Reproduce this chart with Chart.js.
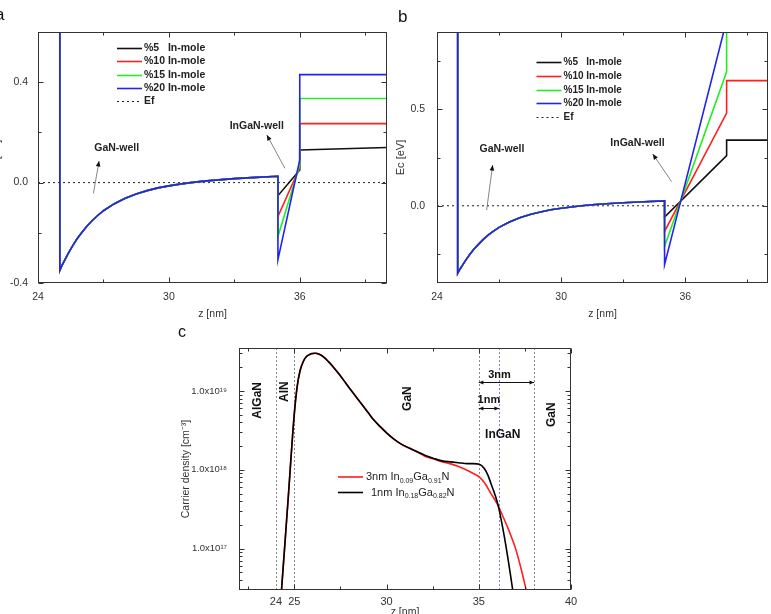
<!DOCTYPE html>
<html>
<head>
<meta charset="utf-8">
<script src="https://cdn.jsdelivr.net/npm/chart.js@4"></script>
<style>
html, body { margin: 0; padding: 0; background: #fff; }
body { width: 771px; height: 614px; overflow: hidden; position: relative; }
canvas { position: absolute; }
#ca { left: -14px; top: 0; }
#cb { left: 385px; top: 0; }
#cc { left: 175px; top: 310px; }
</style>
</head>
<body>
<canvas id="ca" width="404" height="322"></canvas>
<canvas id="cb" width="386" height="322"></canvas>
<canvas id="cc" width="410" height="320"></canvas>
<script>
const FONT = "'Liberation Sans', Arial, Helvetica, sans-serif";
Chart.defaults.font.family = FONT;
Chart.defaults.color = '#333';

// ---- panels a / b : conduction band edge Ec(z) ----
const seriesNames = ['%5', '%10', '%15', '%20'];
const seriesColors = ['#111111', '#ff1f1f', '#22ee22', '#2323ee'];

// GaN-well part, common to all In fractions (first point is the AlN barrier, off the top)
const zWell = [25, 25, 25.1, 25.25, 25.4, 25.6, 25.8, 26, 26.25, 26.5, 26.75, 27, 27.5, 28, 28.5, 29, 29.5, 30, 30.5, 31, 31.5, 32, 33, 34, 35];
const ecWell = [1.0, -0.35, -0.33, -0.305, -0.28, -0.25, -0.223, -0.2, -0.173, -0.15, -0.13, -0.112, -0.084, -0.062, -0.045, -0.032, -0.021, -0.013, -0.006, 0, 0.005, 0.009, 0.016, 0.021, 0.025];

// panel a: 1 nm InGaN (35-36 nm)
const zTailA = [35, 36, 36, 40];
const ecA5 = [-0.052, 0.05, 0.13, 0.14];
const ecA10 = [-0.135, 0.06, 0.235, 0.235];
const ecA15 = [-0.215, 0.07, 0.335, 0.335];
const ecA20 = [-0.307, 0.09, 0.43, 0.43];

// panel b: 3 nm InGaN (35-38 nm)
const zTailB = [35, 38, 38, 40];
const ecB5 = [-0.058, 0.26, 0.34, 0.34];
const ecB10 = [-0.133, 0.48, 0.648, 0.648];
const ecB15 = [-0.21, 0.694, 1.2, 1.2];
const ecB20 = [-0.305, 0.96, 1.3, 1.3];

const xTicksAB = [24, 30, 36];
const xMinorAB = [27, 33, 39];
const yTicksA = [-0.4, 0, 0.4];
const yMinorA = [-0.2, 0.2];
const yTicksB = [0, 0.5];
const yMinorB = [-0.25, 0.25, 0.75];

// ---- panel c : carrier density ----
const zBlackC = [24.25, 24.5, 24.7, 24.85, 25.0, 25.15, 25.31, 25.5, 25.67, 25.9, 26.13, 26.35, 26.58, 26.85, 27.12, 27.4, 27.67, 27.94, 28.21, 28.49, 28.76, 29.03, 29.3, 29.67, 30.03, 30.4, 30.75, 31.2, 31.67, 32.1, 32.57, 33.0, 33.48, 33.9, 34.39, 34.7, 35.03, 35.3, 35.5, 35.66, 36.03, 36.39, 36.84, 37.0];
const nBlackC = [2.0e16, 1.26e17, 5.6e17, 1.8e18, 5.2e18, 1.12e19, 1.8e19, 2.4e19, 2.75e19, 2.95e19, 3.0e19, 2.92e19, 2.7e19, 2.35e19, 2.0e19, 1.66e19, 1.37e19, 1.12e19, 9.3e18, 7.6e18, 6.3e18, 5.2e18, 4.3e18, 3.5e18, 2.9e18, 2.45e18, 2.15e18, 1.9e18, 1.7e18, 1.52e18, 1.39e18, 1.3e18, 1.26e18, 1.23e18, 1.2e18, 1.2e18, 1.18e18, 1.04e18, 8.5e17, 6.7e17, 3.7e17, 1.4e17, 3.0e16, 1.6e16];
const zRedC = [24.25, 24.5, 24.7, 24.85, 25.0, 25.15, 25.31, 25.5, 25.67, 25.9, 26.13, 26.35, 26.58, 26.85, 27.12, 27.4, 27.67, 27.94, 28.21, 28.49, 28.76, 29.03, 29.3, 29.67, 30.03, 30.4, 30.75, 31.2, 31.67, 32.1, 32.57, 33.0, 33.48, 33.9, 34.39, 34.7, 35.03, 35.3, 35.66, 36.03, 36.3, 36.57, 36.8, 37.02, 37.3, 37.57, 37.8];
const nRedC = [2.0e16, 1.26e17, 5.6e17, 1.8e18, 5.2e18, 1.12e19, 1.8e19, 2.4e19, 2.75e19, 2.95e19, 3.0e19, 2.92e19, 2.7e19, 2.35e19, 2.0e19, 1.66e19, 1.37e19, 1.12e19, 9.3e18, 7.6e18, 6.3e18, 5.2e18, 4.3e18, 3.5e18, 2.9e18, 2.45e18, 2.15e18, 1.9e18, 1.68e18, 1.48e18, 1.37e18, 1.27e18, 1.19e18, 1.1e18, 9.8e17, 9.0e17, 8.1e17, 6.9e17, 5.0e17, 3.6e17, 2.6e17, 1.85e17, 1.35e17, 9.6e16, 5.5e16, 3.0e16, 1.8e16];
const layerEdges = [24, 25, 35, 38];
const wellCentre = 36.1;
const xTicksC = [24, 25, 30, 35, 40];
const xMinorC = [22.5, 27.5, 32.5, 37.5];
const yTicksC = [1e17, 1e18, 1e19];
const yMinorC = [4e16, 5e16, 6e16, 7e16, 8e16, 9e16, 2e17, 3e17, 4e17, 5e17, 6e17, 7e17, 8e17, 9e17, 2e18, 3e18, 4e18, 5e18, 6e18, 7e18, 8e18, 9e18, 2e19, 3e19];

const pts = (xs, ys) => xs.map((x, i) => ({x: x, y: ys[i]}));
const SUP = {'17': '¹⁷', '18': '¹⁸', '19': '¹⁹'};

function line(ctx, x1, y1, x2, y2) {
    ctx.beginPath();
    ctx.moveTo(x1, y1);
    ctx.lineTo(x2, y2);
    ctx.stroke();
}

function arrowHead(ctx, x1, y1, x2, y2, size) {
    const ang = Math.atan2(y2 - y1, x2 - x1);
    ctx.beginPath();
    ctx.moveTo(x2, y2);
    ctx.lineTo(x2 - size * Math.cos(ang - 0.4), y2 - size * Math.sin(ang - 0.4));
    ctx.lineTo(x2 - size * Math.cos(ang + 0.4), y2 - size * Math.sin(ang + 0.4));
    ctx.closePath();
    ctx.fill();
}

// box around the plot with inward tick marks on all four sides
const framePlugin = {
    id: 'frame',
    afterDatasetsDraw(chart, args, o) {
        const {ctx, chartArea: a} = chart;
        const sx = chart.scales.x, sy = chart.scales.y;
        const L = Math.round(a.left) + 0.5, R = Math.round(a.right) - 0.5;
        const T = Math.round(a.top) + 0.5, B = Math.round(a.bottom) - 0.5;
        ctx.save();
        ctx.strokeStyle = '#333';
        ctx.lineWidth = 1;
        ctx.setLineDash([]);
        ctx.strokeRect(L, T, R - L, B - T);
        const xt = (v, len) => {
            const p = Math.round(sx.getPixelForValue(v)) + 0.5;
            line(ctx, p, B, p, B - len);
            line(ctx, p, T, p, T + len);
        };
        const yt = (v, len) => {
            const p = Math.round(sy.getPixelForValue(v)) + 0.5;
            line(ctx, L, p, L + len, p);
            line(ctx, R, p, R - len, p);
        };
        o.xMajor.forEach(v => xt(v, 5));
        o.xMinor.forEach(v => xt(v, 3));
        o.yMajor.forEach(v => yt(v, 5));
        o.yMinor.forEach(v => yt(v, 3));
        ctx.restore();
    }
};

// legend, well labels, arrows and panel letter for a / b
const bandNotes = {
    id: 'bandNotes',
    afterDraw(chart, args, o) {
        const {ctx, chartArea: a} = chart;
        const sx = chart.scales.x, sy = chart.scales.y;
        ctx.save();
        ctx.font = 'bold ' + o.legFont + 'px ' + FONT;
        ctx.textBaseline = 'middle';
        ctx.textAlign = 'left';
        const inW = ctx.measureText('%10 ').width;
        const x0 = a.left + o.legX, x1 = x0 + o.legLen;
        seriesNames.concat(['Ef']).forEach((name, i) => {
            const yy = Math.round(a.top + o.legY + i * o.legGap) + 0.5;
            if (i < 4) {
                ctx.strokeStyle = seriesColors[i];
                ctx.lineWidth = 1.6;
                ctx.setLineDash([]);
            } else {
                ctx.strokeStyle = '#222';
                ctx.lineWidth = 1;
                ctx.setLineDash([2, 3]);
            }
            line(ctx, x0, yy, x1, yy);
            ctx.fillStyle = '#222';
            ctx.fillText(name, x1 + 2, yy);
            if (i < 4) ctx.fillText('In-mole', x1 + 2 + inW, yy);
        });
        ctx.setLineDash([]);

        ctx.font = 'bold 10.5px ' + FONT;
        ctx.textAlign = 'center';
        o.labels.forEach(l => {
            ctx.fillText(l.text, sx.getPixelForValue(l.x), sy.getPixelForValue(l.y));
        });
        ctx.strokeStyle = '#666';
        ctx.fillStyle = '#111';
        ctx.lineWidth = 0.8;
        o.arrows.forEach(r => {
            const px1 = sx.getPixelForValue(r.x1), py1 = sy.getPixelForValue(r.y1);
            const px2 = sx.getPixelForValue(r.x2), py2 = sy.getPixelForValue(r.y2);
            line(ctx, px1, py1, px2, py2);
            arrowHead(ctx, px1, py1, px2, py2, 6);
        });

        ctx.font = '17px ' + FONT;
        ctx.textAlign = 'left';
        ctx.textBaseline = 'alphabetic';
        ctx.fillStyle = '#111';
        ctx.fillText(o.letter.text, o.letter.x, o.letter.y);
        ctx.restore();
    }
};

function bandChart(id, zTail, tails, yMin, yMax, yTicks, yMinor, notes, yTitlePad, yTickPad) {
    const datasets = [];
    // highest In fraction drawn on top
    for (let i = 3; i >= 0; i--) {
        datasets.push({
            label: seriesNames[i] + ' In-mole',
            data: pts(zWell.concat(zTail), ecWell.concat(tails[i])),
            borderColor: seriesColors[i],
            borderWidth: 1.6,
            pointRadius: 0,
            tension: 0
        });
    }
    datasets.push({
        label: 'Ef',
        data: [{x: 24, y: 0}, {x: 40, y: 0}],
        borderColor: '#222',
        borderWidth: 1,
        borderDash: [2, 3],
        pointRadius: 0
    });

    return new Chart(document.getElementById(id), {
        type: 'line',
        data: {datasets: datasets},
        options: {
            responsive: false,
            animation: false,
            devicePixelRatio: 1,
            events: [],
            layout: {padding: {top: 32, right: 3, left: 0, bottom: 0}},
            scales: {
                x: {
                    type: 'linear',
                    min: 24,
                    max: 40,
                    afterBuildTicks: s => { s.ticks = xTicksAB.map(v => ({value: v})); },
                    afterFit: s => { s.height = 39; },
                    grid: {display: false, drawTicks: false},
                    border: {display: false},
                    ticks: {autoSkip: false, maxRotation: 0, padding: 8, font: {size: 10.5}, callback: v => String(v)},
                    title: {display: true, text: 'z [nm]', font: {size: 10.5}, padding: {top: 0, bottom: 2}}
                },
                y: {
                    type: 'linear',
                    min: yMin,
                    max: yMax,
                    afterBuildTicks: s => { s.ticks = yTicks.map(v => ({value: v})); },
                    afterFit: s => { s.width = 52; },
                    grid: {display: false, drawTicks: false},
                    border: {display: false},
                    ticks: {padding: yTickPad, font: {size: 10.5}, callback: v => v.toFixed(1)},
                    title: {display: true, text: 'Ec [eV]', font: {size: 11}, padding: {top: yTitlePad, bottom: 0}}
                }
            },
            plugins: {
                legend: {display: false},
                tooltip: {enabled: false},
                frame: {xMajor: xTicksAB, xMinor: xMinorAB, yMajor: yTicks, yMinor: yMinor},
                bandNotes: notes
            }
        },
        plugins: [framePlugin, bandNotes]
    });
}

bandChart('ca', zTailA, [ecA5, ecA10, ecA15, ecA20], -0.4, 0.6, yTicksA, yMinorA, {
    legFont: 10.5, legX: 79, legY: 16, legGap: 13.3, legLen: 25,
    labels: [{text: 'GaN-well', x: 27.61, y: 0.137}, {text: 'InGaN-well', x: 34.03, y: 0.227}],
    arrows: [{x1: 26.54, y1: -0.043, x2: 26.8, y2: 0.086}, {x1: 35.32, y1: 0.057, x2: 34.49, y2: 0.19}],
    letter: {text: 'a', x: 9, y: 20}
}, 4, 10);

bandChart('cb', zTailB, [ecB5, ecB10, ecB15, ecB20], -0.4, 0.9, yTicksB, yMinorB, {
    legFont: 10, legX: 99.5, legY: 29.7, legGap: 13.9, legLen: 25,
    labels: [{text: 'GaN-well', x: 27.14, y: 0.292}, {text: 'InGaN-well', x: 33.69, y: 0.327}],
    arrows: [{x1: 26.4, y1: -0.022, x2: 26.69, y2: 0.211}, {x1: 35.34, y1: 0.125, x2: 34.43, y2: 0.268}],
    letter: {text: 'b', x: 13, y: 22}
}, 9, 12);

// ---- panel c decorations ----
function richText(ctx, parts, x, y, size) {
    let cx = x;
    parts.forEach(p => {
        if (p.sub) {
            ctx.font = Math.round(size * 0.64) + 'px ' + FONT;
            ctx.fillText(p.t, cx, y + size * 0.35);
        } else {
            ctx.font = size + 'px ' + FONT;
            ctx.fillText(p.t, cx, y);
        }
        cx += ctx.measureText(p.t).width;
    });
}

const carrierNotes = {
    id: 'carrierNotes',
    beforeDatasetsDraw(chart) {
        const {ctx, chartArea: a} = chart;
        const sx = chart.scales.x;
        ctx.save();
        ctx.lineWidth = 1;
        ctx.setLineDash([2, 2]);
        ctx.strokeStyle = '#888';
        layerEdges.forEach(v => {
            const p = Math.round(sx.getPixelForValue(v)) + 0.5;
            line(ctx, p, a.top, p, a.bottom);
        });
        ctx.strokeStyle = '#7b7bff';
        const p = Math.round(sx.getPixelForValue(wellCentre)) + 0.5;
        line(ctx, p, a.top, p, a.bottom);
        ctx.restore();
    },
    afterDraw(chart) {
        const {ctx, chartArea: a} = chart;
        const sx = chart.scales.x, sy = chart.scales.y;
        ctx.save();
        ctx.fillStyle = '#111';
        ctx.textBaseline = 'middle';
        ctx.textAlign = 'center';
        ctx.font = 'bold 12px ' + FONT;
        [{t: 'AlGaN', x: 23.04, y: 7.6e18}, {t: 'AlN', x: 24.45, y: 9.8e18}, {t: 'GaN', x: 31.12, y: 8.0e18}, {t: 'GaN', x: 38.93, y: 5.0e18}].forEach(l => {
            ctx.save();
            ctx.translate(sx.getPixelForValue(l.x), sy.getPixelForValue(l.y));
            ctx.rotate(-Math.PI / 2);
            ctx.fillText(l.t, 0, 0);
            ctx.restore();
        });
        ctx.fillText('InGaN', sx.getPixelForValue(36.3), sy.getPixelForValue(2.75e18));
        ctx.font = 'bold 11px ' + FONT;
        ctx.fillText('3nm', sx.getPixelForValue(36.12), sy.getPixelForValue(1.6e19));
        ctx.fillText('1nm', sx.getPixelForValue(35.55), sy.getPixelForValue(7.6e18));

        ctx.strokeStyle = '#111';
        ctx.lineWidth = 1;
        [{x1: 35, x2: 38, y: 1.3e19}, {x1: 35, x2: wellCentre, y: 6.0e18}].forEach(r => {
            const p1 = sx.getPixelForValue(r.x1), p2 = sx.getPixelForValue(r.x2);
            const py = Math.round(sy.getPixelForValue(r.y)) + 0.5;
            line(ctx, p1, py, p2, py);
            arrowHead(ctx, p2, py, p1, py, 5);
            arrowHead(ctx, p1, py, p2, py, 5);
        });

        // legend
        ctx.textAlign = 'left';
        const lx = a.left + 99, ly1 = a.top + 129, ly2 = a.top + 144.5;
        ctx.lineWidth = 1.6;
        ctx.strokeStyle = '#ff1f1f';
        line(ctx, lx, ly1, lx + 25, ly1);
        ctx.strokeStyle = '#000';
        line(ctx, lx, ly2, lx + 25, ly2);
        ctx.fillStyle = '#222';
        richText(ctx, [{t: '3nm In'}, {t: '0.09', sub: true}, {t: 'Ga'}, {t: '0.91', sub: true}, {t: 'N'}], lx + 28, ly1, 11);
        richText(ctx, [{t: '1nm In'}, {t: '0.18', sub: true}, {t: 'Ga'}, {t: '0.82', sub: true}, {t: 'N'}], lx + 33, ly2, 11);

        ctx.font = '16px ' + FONT;
        ctx.textBaseline = 'alphabetic';
        ctx.fillStyle = '#111';
        ctx.fillText('c', 3, 27);
        ctx.restore();
    }
};

new Chart(document.getElementById('cc'), {
    type: 'line',
    data: {
        datasets: [
            {
                label: '1nm In0.18Ga0.82N',
                data: pts(zBlackC, nBlackC),
                borderColor: '#000',
                borderWidth: 1.6,
                pointRadius: 0,
                cubicInterpolationMode: 'monotone'
            },
            {
                label: '3nm In0.09Ga0.91N',
                data: pts(zRedC, nRedC),
                borderColor: '#ff1f1f',
                borderWidth: 1.6,
                pointRadius: 0,
                cubicInterpolationMode: 'monotone'
            }
        ]
    },
    options: {
        responsive: false,
        animation: false,
        devicePixelRatio: 1,
        events: [],
        layout: {padding: {top: 38, right: 14, left: 0, bottom: 0}},
        scales: {
            x: {
                type: 'linear',
                min: 22,
                max: 40,
                afterBuildTicks: s => { s.ticks = xTicksC.map(v => ({value: v})); },
                afterFit: s => { s.height = 40; },
                grid: {display: false, drawTicks: false},
                border: {display: false},
                ticks: {autoSkip: false, maxRotation: 0, padding: 5, font: {size: 11}, callback: v => String(v)},
                title: {display: true, text: 'z [nm]', font: {size: 10.5}, padding: {top: 0, bottom: 12}}
            },
            y: {
                type: 'logarithmic',
                min: 3e16,
                max: 3.5e19,
                afterBuildTicks: s => { s.ticks = yTicksC.map(v => ({value: v})); },
                afterFit: s => { s.width = 64; },
                grid: {display: false, drawTicks: false},
                border: {display: false},
                ticks: {padding: 12, font: {size: 9.5}, callback: v => '1.0x10' + SUP[String(Math.round(Math.log10(v)))]},
                title: {display: true, text: 'Carrier density [cm⁻³]', font: {size: 10.5}, padding: {top: 5, bottom: 0}}
            }
        },
        plugins: {
            legend: {display: false},
            tooltip: {enabled: false},
            frame: {xMajor: [25, 30, 35, 40], xMinor: xMinorC, yMajor: yTicksC, yMinor: yMinorC}
        }
    },
    plugins: [framePlugin, carrierNotes]
});
</script>
</body>
</html>
